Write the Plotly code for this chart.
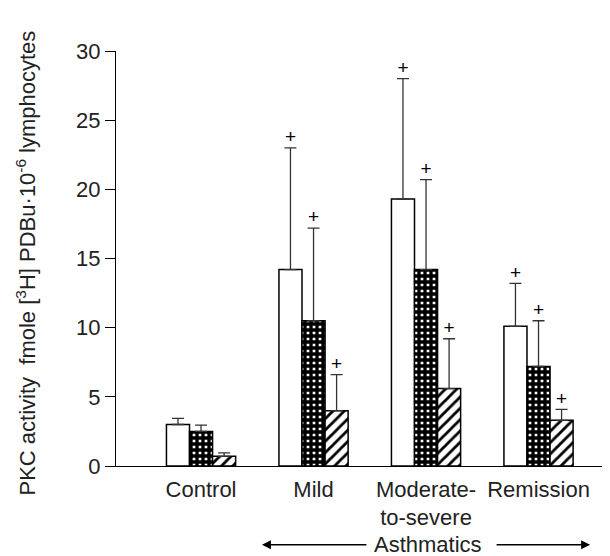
import plotly.graph_objects as go

# ---- data ----
categories = ["Control", "Mild", "Moderate-<br>to-severe", "Remission"]
open_vals = [3.0, 14.2, 19.3, 10.1]
open_err = [0.45, 8.8, 8.7, 3.1]
checked_vals = [2.5, 10.5, 14.2, 7.2]
checked_err = [0.45, 6.7, 6.5, 3.3]
hatched_vals = [0.7, 4.0, 5.6, 3.3]
hatched_err = [0.25, 2.6, 3.6, 0.8]
sig_open = ["", "+", "+", "+"]
sig_checked = ["", "+", "+", "+"]
sig_hatched = ["", "+", "+", "+"]
y_ticks = [0, 5, 10, 15, 20, 25, 30]

FONT = "Liberation Sans, Arial, Helvetica, sans-serif"
TXT = "#222222"
BAR_W = 0.205

series = [
    (open_vals, open_err, sig_open, dict(color="white")),
    (checked_vals, checked_err, sig_checked,
     dict(color="white", pattern=dict(shape="+", fgcolor="black", bgcolor="white",
                                      size=6, solidity=0.8, fillmode="replace"))),
    (hatched_vals, hatched_err, sig_hatched,
     dict(color="white", pattern=dict(shape="/", fgcolor="black", bgcolor="white",
                                      size=8, solidity=0.35, fillmode="replace"))),
]

fig = go.Figure()
idx = list(range(len(categories)))
for k, (vals, errs, sig, mk) in enumerate(series):
    xs = [i + (k - 1) * BAR_W for i in idx]
    marker = dict(mk)
    marker["line"] = dict(color="black", width=1.5)
    fig.add_trace(go.Bar(
        x=xs, y=vals, width=BAR_W, marker=marker,
        error_y=dict(type="data", array=errs, arrayminus=[0] * len(errs),
                     symmetric=False, color="#333333", thickness=1.3, width=6),
        showlegend=False, hoverinfo="skip",
    ))
    keep = [j for j, s in enumerate(sig) if s]
    fig.add_trace(go.Scatter(
        x=[xs[j] for j in keep], y=[vals[j] + errs[j] for j in keep],
        mode="text", text=[sig[j] for j in keep],
        textposition="top center",
        textfont=dict(family=FONT, size=19, color="black"),
        showlegend=False, hoverinfo="skip",
    ))

fig.update_layout(
    width=610, height=556,
    margin=dict(l=108, r=4, t=43, b=98),
    paper_bgcolor="white", plot_bgcolor="white",
    barmode="overlay",
    font=dict(family=FONT, size=22, color=TXT),
    xaxis=dict(
        range=[-0.756, 3.671], tickmode="array", tickvals=idx, ticktext=categories,
        showline=True, linecolor="black", linewidth=1.3, ticks="", tickangle=0,
        showgrid=False, zeroline=False, ticklabelstandoff=3,
        tickfont=dict(family=FONT, size=22, color=TXT),
    ),
    yaxis=dict(
        range=[0, 30], tickmode="array", tickvals=y_ticks,
        showline=True, linecolor="black", linewidth=1.3,
        ticks="outside", ticklen=10, tickwidth=1.3, tickcolor="black",
        showgrid=False, zeroline=False,
        tickfont=dict(family=FONT, size=22, color=TXT),
    ),
)

# y-axis title
fig.add_annotation(
    text="PKC activity&nbsp;&nbsp;fmole [<sup>3</sup>H] PDBu·10<sup>-6</sup> lymphocytes",
    xref="paper", yref="paper", x=-0.181, y=0.49, textangle=-90,
    showarrow=False, xanchor="center", yanchor="middle",
    font=dict(family=FONT, size=22, color=TXT),
)

# "Asthmatics" with arrows
ROW_Y = -0.19
fig.add_annotation(text="Asthmatics", xref="paper", yref="paper", x=0.627, y=ROW_Y,
                   showarrow=False, xanchor="center", yanchor="middle",
                   font=dict(family=FONT, size=22, color=TXT))
fig.add_annotation(text="", xref="paper", yref="paper", x=0.293, y=ROW_Y,
                   ax=106, ay=0, showarrow=True, arrowhead=2, arrowsize=1.2,
                   arrowwidth=1.5, arrowcolor="black")
fig.add_annotation(text="", xref="paper", yref="paper", x=0.952, y=ROW_Y,
                   ax=-95, ay=0, showarrow=True, arrowhead=2, arrowsize=1.2,
                   arrowwidth=1.5, arrowcolor="black")

fig.write_html("out.html")
